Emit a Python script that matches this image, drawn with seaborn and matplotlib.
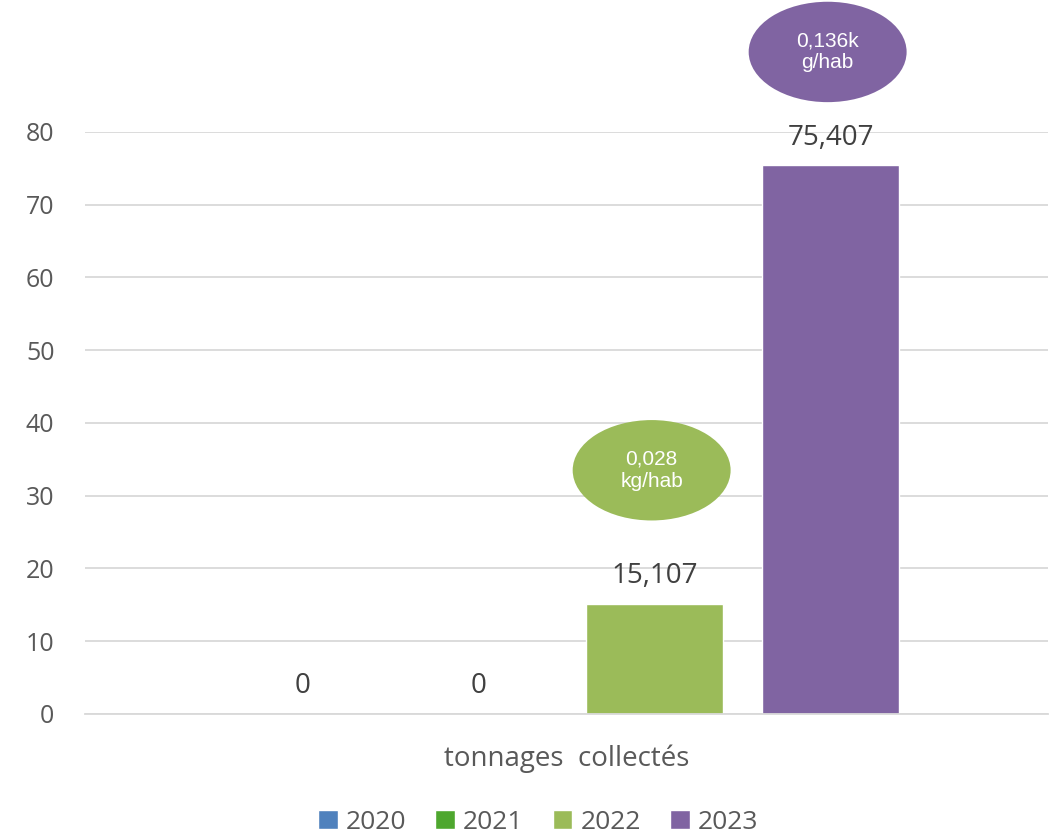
import seaborn as sns
import pandas as pd
import matplotlib.pyplot as plt
from matplotlib.patches import Ellipse

category = "tonnages  collectés"
years = ["2020", "2021", "2022", "2023"]
tonnages = [0, 0, 15.107, 75.407]
value_labels = ["0", "0", "15,107", "75,407"]
colors = ["#4F81BD", "#4EA72E", "#9BBB59", "#8064A2"]

# ratio bubbles above the last two bars
bubble_years = ["2022", "2023"]
bubble_text = ["0,028\nkg/hab", "0,136k\ng/hab"]
bubble_y = [33.5, 91.0]

df = pd.DataFrame({"categorie": [category] * 4, "annee": years, "tonnes": tonnages})

sns.set_style("white")
plt.rcParams['font.family'] = ['Open Sans', 'DejaVu Sans']

fig = plt.figure(figsize=(10.51, 8.39), dpi=100)
ax = fig.add_axes([0.0809, 0.149, 0.9163, 0.6937])

sns.barplot(data=df, x="categorie", y="tonnes", hue="annee", palette=colors,
            saturation=1, width=0.731, gap=0.22, ax=ax, legend=True)

ax.set_xlim(-0.5, 0.5)
ax.set_ylim(0, 80)
ax.set_yticks(range(0, 81, 10))
ax.yaxis.grid(True, color="#D9D9D9", linewidth=1.3)
ax.set_axisbelow(True)
for s in ["top", "right", "left"]:
    ax.spines[s].set_visible(False)
ax.spines["bottom"].set_color("#D9D9D9")
ax.spines["bottom"].set_linewidth(1.3)
ax.tick_params(axis="y", length=0, labelsize=18, labelcolor="#595959", pad=22)
ax.tick_params(axis="x", length=0, labelsize=20, labelcolor="#595959", pad=22)
ax.set_xlabel("")
ax.set_ylabel("")

centers = {}
for cont, yr, lab in zip(ax.containers, years, value_labels):
    bar = cont.patches[0]
    cx = bar.get_x() + bar.get_width() / 2
    centers[yr] = cx
    ax.annotate(lab, (cx, bar.get_height()), xytext=(0, 20), textcoords="offset points",
                ha="center", va="center", fontsize=20, color="#404040", clip_on=False)

for yr, txt, by, col in zip(bubble_years, bubble_text, bubble_y, colors[2:]):
    e = Ellipse((centers[yr] - 0.003, by), width=0.164, height=13.8, facecolor=col,
                edgecolor="none", clip_on=False, zorder=5)
    ax.add_patch(e)
    ax.text(centers[yr] - 0.003, by, txt, ha="center", va="center", fontsize=15,
            color="white", family=["Liberation Sans", "DejaVu Sans"],
            linespacing=1.2, zorder=6, clip_on=False)

leg = ax.legend(loc="center", bbox_to_anchor=(0.512, 0.02), bbox_transform=fig.transFigure,
                ncol=4, frameon=False, fontsize=19, handlelength=0.75, handleheight=0.75,
                handletextpad=0.3, columnspacing=1.1)
for t in leg.get_texts():
    t.set_color("#595959")

fig.savefig("out.png", dpi=100)
